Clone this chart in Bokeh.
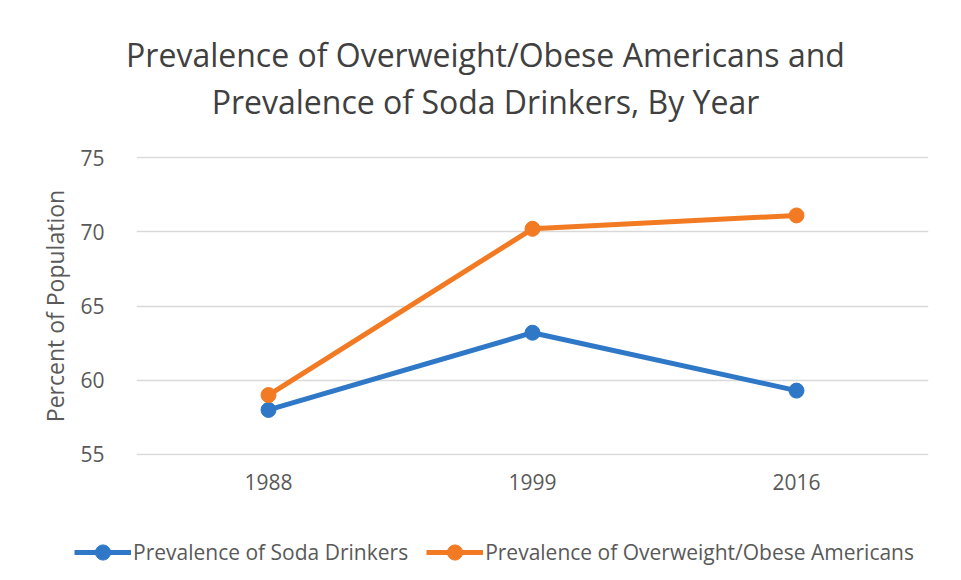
from bokeh.plotting import figure
from bokeh.models import FactorRange, Range1d, Legend, LegendItem, Label
from bokeh.layouts import column
from bokeh.embed import file_html
from bokeh.resources import INLINE

years = ["1988", "1999", "2016"]
soda = [58.0, 63.2, 59.3]
obese = [59.0, 70.2, 71.1]
y_ticks = [55, 60, 65, 70, 75]

title_lines = ["Prevalence of Overweight/Obese Americans and",
               "Prevalence of Soda Drinkers, By Year"]
series_names = ["Prevalence of Soda Drinkers", "Prevalence of Overweight/Obese Americans"]

FONT = "Open Sans"
GRAY = "#595959"
BLUE = "#2f78c8"
ORANGE = "#f27a22"
W = 961
TH = 136

# ---- title strip ----
pt = figure(width=W, height=TH, x_range=Range1d(0, W), y_range=Range1d(TH, 0),
            x_axis_type=None, y_axis_type=None, output_backend="svg", toolbar_location=None,
            min_border=0, frame_align=False)
pt.grid.visible = False
pt.outline_line_color = None
for line, yc in zip(title_lines, [54, 101]):
    pt.add_layout(Label(x=485, y=yc, text=line, text_align="center", text_baseline="middle",
                        text_font=FONT, text_font_size="32px", text_color="#404040"))

# ---- main chart ----
p = figure(width=W, height=370, x_range=FactorRange(*years), y_range=Range1d(54.93, 75.07),
           output_backend="svg", toolbar_location=None, frame_align=False,
           min_border_left=136, min_border_right=33, min_border_top=20, min_border_bottom=51)

p.line(years, soda, line_color=BLUE, line_width=5)
p.scatter(years, soda, size=15, fill_color=BLUE, line_color=BLUE)
p.line(years, obese, line_color=ORANGE, line_width=5)
p.scatter(years, obese, size=15, fill_color=ORANGE, line_color=ORANGE)

p.yaxis.ticker = y_ticks
p.yaxis.axis_label = "Percent of Population"
p.yaxis.axis_label_text_font = FONT
p.yaxis.axis_label_text_font_size = "23px"
p.yaxis.axis_label_text_font_style = "normal"
p.yaxis.axis_label_text_color = GRAY
p.yaxis.axis_label_standoff = 6
for ax in (p.xaxis, p.yaxis):
    ax.major_label_text_font = FONT
    ax.major_label_text_font_size = "21px"
    ax.major_label_text_color = GRAY
    ax.axis_line_color = None
    ax.major_tick_line_color = None
    ax.minor_tick_line_color = None
p.xaxis.major_label_standoff = 12
p.yaxis.major_label_standoff = 26
p.xgrid.grid_line_color = None
p.ygrid.grid_line_color = "#d9d9d9"
p.ygrid.grid_line_width = 1.5
p.outline_line_color = None
p.x_range.range_padding = 0

# ---- legend strip ----
pl = figure(width=W, height=74, x_range=FactorRange(*years), y_range=Range1d(0, 1),
            x_axis_type=None, y_axis_type=None, output_backend="svg", toolbar_location=None,
            min_border=0, frame_align=False)
pl.grid.visible = False
pl.outline_line_color = None
l1 = pl.line(years, soda, line_color=BLUE, line_width=5)
m1 = pl.scatter(years, soda, size=15, fill_color=BLUE, line_color=BLUE)
l2 = pl.line(years, obese, line_color=ORANGE, line_width=5)
m2 = pl.scatter(years, obese, size=15, fill_color=ORANGE, line_color=ORANGE)
legend = Legend(items=[LegendItem(label=series_names[0], renderers=[l1, m1]),
                       LegendItem(label=series_names[1], renderers=[l2, m2])],
                orientation="horizontal", location=(74, 9),
                label_text_font=FONT, label_text_font_size="21px", label_text_color=GRAY,
                glyph_width=57, glyph_height=38, label_standoff=2, spacing=18,
                border_line_color=None, background_fill_alpha=0, padding=8, margin=0)
pl.add_layout(legend)

layout = column(pt, p, pl, spacing=0)
open("out.html", "w").write(file_html(layout, INLINE))
